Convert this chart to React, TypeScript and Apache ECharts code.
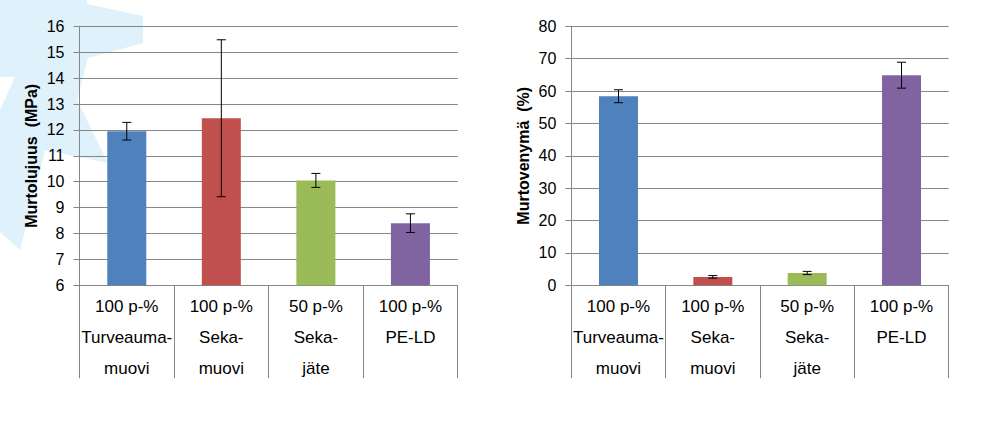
import React, { useEffect, useRef } from "react";
import * as echarts from "echarts";

const categories = [
  "100 p-%\nTurveauma-\nmuovi",
  "100 p-%\nSeka-\nmuovi",
  "50 p-%\nSeka-\njäte",
  "100 p-%\nPE-LD",
];
const barColors = ["#4F81BD", "#C0504D", "#9BBB59", "#8064A2"];

const strength = [11.95, 12.45, 10.05, 8.4];
const strengthErr = [0.34, 3.03, 0.27, 0.36];
const strengthTicks = { min: 6, max: 16, interval: 1 };

const elongation = [58.4, 2.6, 3.8, 64.9];
const elongationErr = [2.0, 0.4, 0.5, 4.0];
const elongationTicks = { min: 0, max: 80, interval: 10 };

const leftTitle = "Murtolujuus  (MPa)";
const rightTitle = "Murtovenymä  (%)";

const watermark = [
  [0, 0], [87, 0], [87, 4], [143, 16], [143, 43], [88, 58], [77, 100],
  [108, 163], [45, 150], [20, 250], [0, 232], [0, 110], [15, 77], [0, 77],
];

const FONT = "'Liberation Sans', Arial, sans-serif";
const GRAY = "#868686";

export default function App() {
  const ref = useRef<HTMLDivElement>(null);
  useEffect(() => {
    document.body.style.margin = "0";
    const chart = echarts.init(ref.current!, null, { renderer: "svg" });

    const xAxis = (gi: number) => ({
      type: "category",
      gridIndex: gi,
      data: categories,
      boundaryGap: true,
      axisLine: { lineStyle: { color: GRAY, width: 1 } },
      axisTick: { show: true, length: 93, alignWithLabel: false, lineStyle: { color: GRAY } },
      axisLabel: {
        interval: 0,
        margin: 6,
        fontSize: 17,
        lineHeight: 31,
        color: "#000",
        fontFamily: FONT,
      },
    });
    const yAxis = (gi: number, t: any, name: string) => ({
      type: "value",
      gridIndex: gi,
      min: t.min,
      max: t.max,
      interval: t.interval,
      name,
      nameLocation: "middle",
      nameGap: 40,
      nameRotate: 90,
      nameTextStyle: { fontSize: 16, fontWeight: "bold", color: "#000", fontFamily: FONT },
      axisLine: { show: true, lineStyle: { color: GRAY, width: 1 } },
      axisTick: { show: true, length: 6, lineStyle: { color: GRAY } },
      splitLine: { show: true, lineStyle: { color: GRAY, width: 1 } },
      axisLabel: { fontSize: 16, margin: 15, color: "#000", fontFamily: FONT },
    });

    const bars = (gi: number, vals: number[]) => ({
      type: "bar",
      xAxisIndex: gi,
      yAxisIndex: gi,
      barWidth: 39,
      data: vals.map((v, i) => ({ value: v, itemStyle: { color: barColors[i] } })),
    });
    const errs = (gi: number, vals: number[], e: number[]) => ({
      type: "custom",
      xAxisIndex: gi,
      yAxisIndex: gi,
      data: vals.map((v, i) => [i, v - e[i], v + e[i]]),
      renderItem: (params: any, api: any) => {
        const x = api.value(0);
        const lo = api.coord([x, api.value(1)]);
        const hi = api.coord([x, api.value(2)]);
        const c = 4.5;
        const st = { stroke: "#000", lineWidth: 1 };
        return {
          type: "group",
          children: [
            { type: "line", shape: { x1: lo[0], y1: lo[1], x2: hi[0], y2: hi[1] }, style: st },
            { type: "line", shape: { x1: lo[0] - c, y1: lo[1], x2: lo[0] + c, y2: lo[1] }, style: st },
            { type: "line", shape: { x1: hi[0] - c, y1: hi[1], x2: hi[0] + c, y2: hi[1] }, style: st },
          ],
        };
      },
      z: 5,
    });

    chart.setOption({
      animation: false,
      backgroundColor: "#fff",
      graphic: [
        {
          type: "polygon",
          shape: { points: watermark },
          style: { fill: "#DFF1FB" },
          z: -10,
          silent: true,
        },
      ],
      grid: [
        { left: 79.5, top: 26.3, width: 378.2, height: 259 },
        { left: 571.3, top: 26.3, width: 377.4, height: 259 },
      ],
      xAxis: [xAxis(0), xAxis(1)],
      yAxis: [yAxis(0, strengthTicks, leftTitle), yAxis(1, elongationTicks, rightTitle)],
      series: [
        bars(0, strength),
        errs(0, strength, strengthErr),
        bars(1, elongation),
        errs(1, elongation, elongationErr),
      ],
    });
    return () => chart.dispose();
  }, []);
  return (
    <div
      ref={ref}
      style={{ position: "fixed", left: 0, top: 0, width: 994, height: 428 }}
    />
  );
}
